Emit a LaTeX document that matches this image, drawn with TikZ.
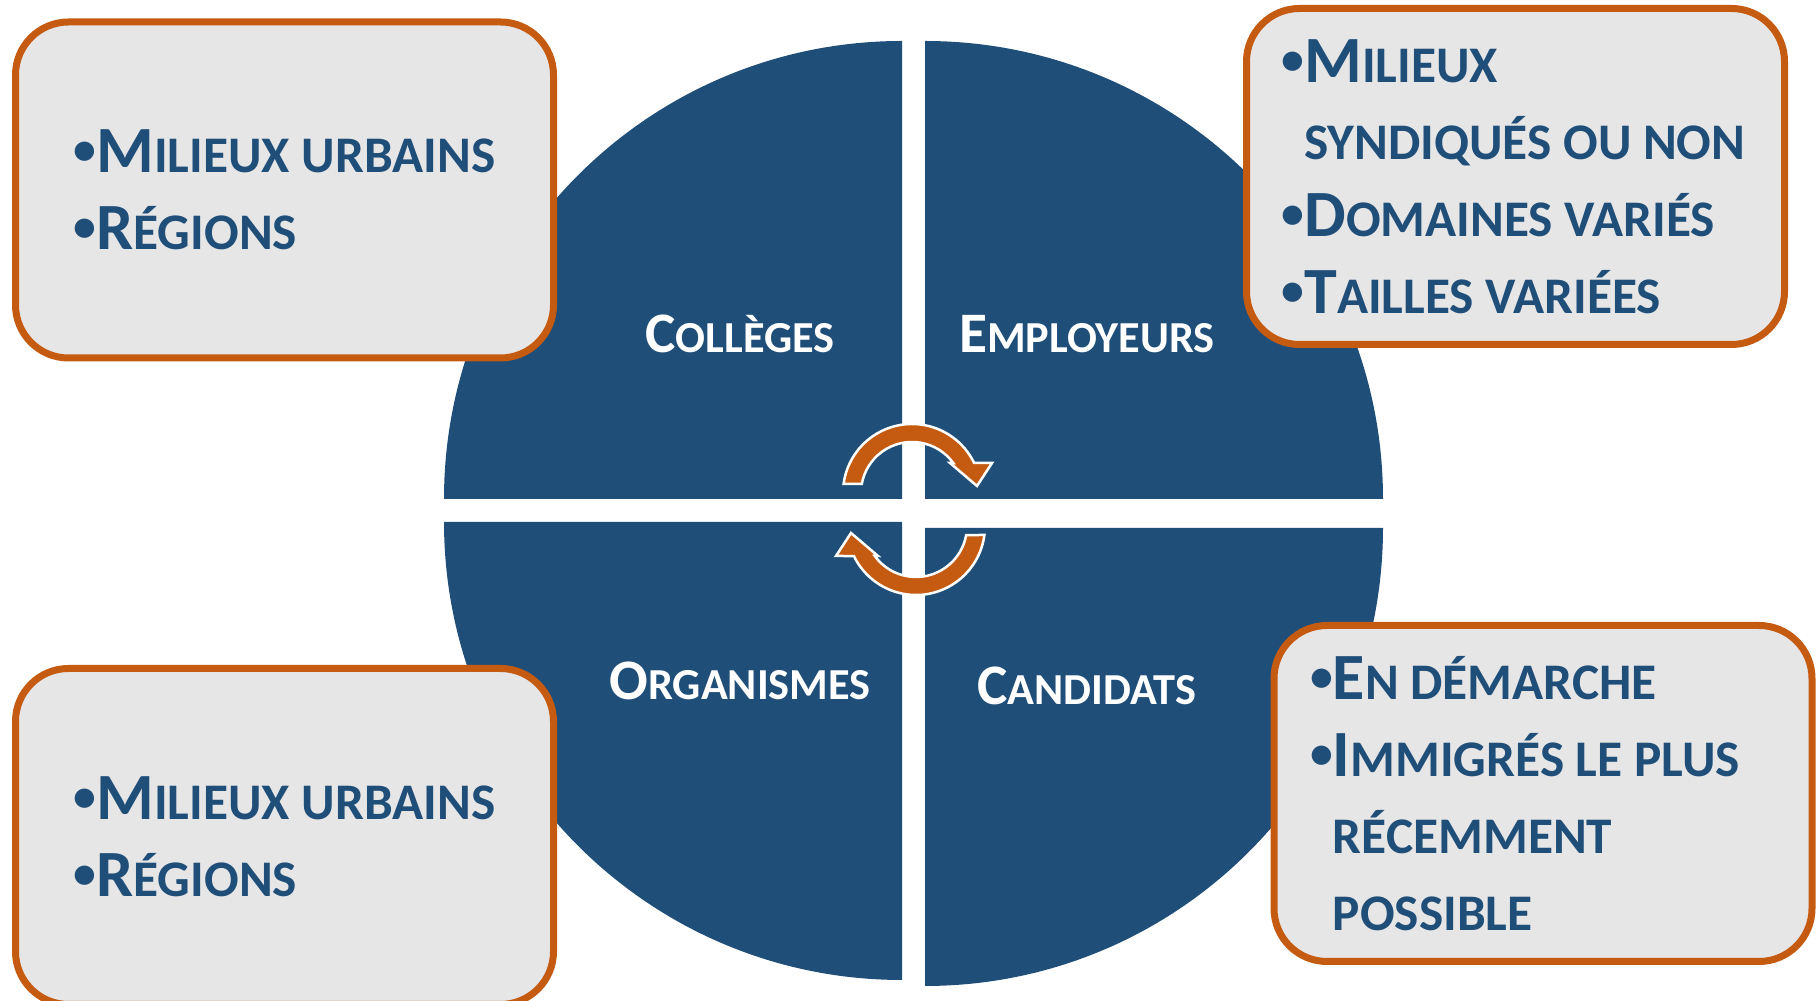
\documentclass[tikz,border=0pt]{standalone}
\usepackage{fontspec}
\setmainfont{Carlito}
\definecolor{quadblue}{RGB}{31,78,121}
\definecolor{boxorange}{RGB}{197,90,17}
\definecolor{boxgray}{RGB}{231,230,230}
\newcommand\listbig{\fontsize{18.8pt}{21.9pt}\selectfont}
\newcommand\listlow{\fontsize{14.6pt}{21.9pt}\selectfont}
\newcommand\listdot{{\fontsize{13pt}{21.9pt}\selectfont\raisebox{0.8mm}{•}}}
\newcommand\quadbig{\fontsize{16.3pt}{18pt}\selectfont}
\newcommand\quadlow{\fontsize{12.6pt}{18pt}\selectfont}

\begin{document}
\begin{tikzpicture}[
x=0.1mm,y=0.1mm,
quarter/.style={fill=quadblue},
listbox/.style={draw=boxorange,line width=0.7mm,fill=boxgray,rounded corners=5.3mm,minimum width=53.8mm,minimum height=33.6mm},
listtext/.style={text=quadblue,font=\listbig\bfseries,align=left,inner sep=0pt,anchor=west},
quadlabel/.style={text=white,font=\bfseries,inner sep=0pt,anchor=base},
cyclearrow/.style={fill=boxorange,draw=white,line width=0.25mm}
]
\useasboundingbox (0,0) rectangle (1816,1001);

\fill[quarter] (902,502) -- ++(-458,0) arc[start angle=180,end angle=90,radius=458] -- cycle;
\fill[quarter] (925,502) -- ++(0,458) arc[start angle=90,end angle=0,radius=458] -- cycle;
\fill[quarter] (902,479) -- ++(-458,0) arc[start angle=180,end angle=270,radius=458] -- cycle;
\fill[quarter] (925,473) -- ++(458,0) arc[start angle=0,end angle=-90,radius=458] -- cycle;

\node[quadlabel] (colleges) at (740,648) {{\quadbig C}{\quadlow OLLÈGES}};
\node[quadlabel] (employeurs) at (1087,648) {{\quadbig E}{\quadlow MPLOYEURS}};
\node[quadlabel] (organismes) at (740,301) {{\quadbig O}{\quadlow RGANISMES}};
\node[quadlabel] (candidats) at (1087,296) {{\quadbig C}{\quadlow ANDIDATS}};

\foreach \cx/\cy/\turn in {912/508/0,916/475/180}
  \filldraw[cyclearrow,shift={(\cx,\cy)},rotate=\turn] (172.5:69) arc[start angle=172.5,end angle=25.8,radius=69]
    -- (80,30) -- (65,7) -- (38,30) -- (36:51) arc[start angle=36,end angle=169.8,radius=51] -- cycle;

\node[listbox] (collegebox) at (284.5,811) {};
\node[listtext] (collegelist) at ([xshift=6.1mm]collegebox.west) {\listdot{\listbig M}{\listlow ILIEUX URBAINS}\\\listdot{\listbig R}{\listlow ÉGIONS}};

\node[listbox] (employeurbox) at (1515.5,824.5) {};
\node[listtext] (employeurlist) at ([xshift=3.8mm]employeurbox.west) {\listdot{\listbig M}{\listlow ILIEUX}\\
\phantom{\listdot}{\listlow SYNDIQUÉS OU NON}\\
\listdot{\listbig D}{\listlow OMAINES VARIÉS}\\
\listdot{\listbig T}{\listlow AILLES VARIÉES}};

\node[listbox] (organismebox) at (284.5,164.5) {};
\node[listtext] (organismelist) at ([xshift=6.1mm]organismebox.west) {\listdot{\listbig M}{\listlow ILIEUX URBAINS}\\\listdot{\listbig R}{\listlow ÉGIONS}};

\node[listbox] (candidatbox) at (1543,207.5) {};
\node[listtext] (candidatlist) at ([xshift=3.9mm]candidatbox.west) {\listdot{\listbig E}{\listlow N DÉMARCHE}\\
\listdot{\listbig I}{\listlow MMIGRÉS LE PLUS}\\
\phantom{\listdot}{\listlow RÉCEMMENT}\\
\phantom{\listdot}{\listlow POSSIBLE}};

\end{tikzpicture}
\end{document}
